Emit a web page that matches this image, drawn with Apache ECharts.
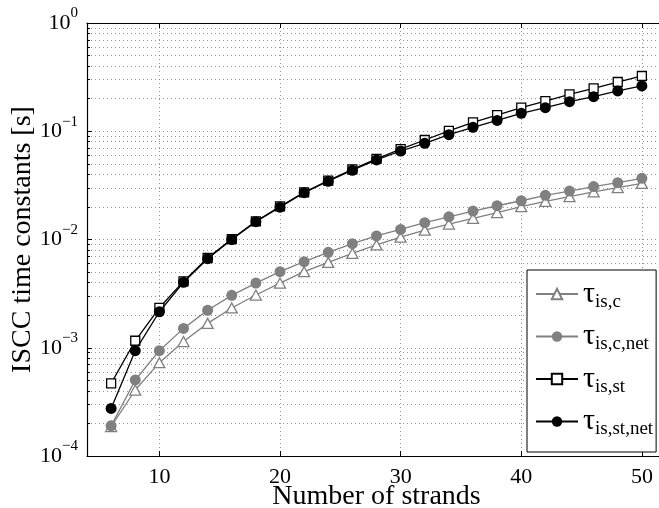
<!DOCTYPE html>
<html><head><meta charset="utf-8">
<script src="https://cdn.jsdelivr.net/npm/echarts@6/dist/echarts.min.js"></script>
<style>html,body{margin:0;padding:0;background:#fff}#c{width:659px;height:508px}</style>
</head><body><div id="c"></div>
<script>
const strands = [6,8,10,12,14,16,18,20,22,24,26,28,30,32,34,36,38,40,42,44,46,48,50];
const tauIsC = [1.87e-4,4.07e-4,7.28e-4,1.14e-3,1.68e-3,2.33e-3,3.07e-3,3.96e-3,5.04e-3,6.15e-3,7.45e-3,8.9e-3,1.05e-2,1.22e-2,1.39e-2,1.57e-2,1.77e-2,2.01e-2,2.25e-2,2.49e-2,2.75e-2,3.01e-2,3.3e-2];
const tauIsCNet = [1.9e-4,5.04e-4,9.4e-4,1.51e-3,2.22e-3,3.05e-3,3.96e-3,5.04e-3,6.24e-3,7.62e-3,9.14e-3,1.08e-2,1.24e-2,1.43e-2,1.62e-2,1.83e-2,2.05e-2,2.28e-2,2.56e-2,2.8e-2,3.08e-2,3.35e-2,3.67e-2];
const tauIsSt = [4.69e-4,1.16e-3,2.34e-3,4.1e-3,6.75e-3,1.01e-2,1.47e-2,2.02e-2,2.73e-2,3.5e-2,4.45e-2,5.55e-2,6.85e-2,8.3e-2,0.101,0.121,0.141,0.165,0.19,0.219,0.249,0.285,0.324];
const tauIsStNet = [2.75e-4,9.4e-4,2.15e-3,4.02e-3,6.65e-3,1.0e-2,1.46e-2,1.99e-2,2.71e-2,3.45e-2,4.36e-2,5.43e-2,6.57e-2,7.73e-2,9.29e-2,0.1087,0.126,0.1465,0.165,0.1875,0.2086,0.2355,0.262];
const xTicks = [10,20,30,40,50];
const yMajorTicks = [1e-4,1e-3,1e-2,1e-1,1];
const yTickExponents = ['−4','−3','−2','−1','0'];
const legendSubs = ['is,c','is,c,net','is,st','is,st,net'];
const seriesNames = legendSubs.map(s => 'τ' + s);

const yMinorTicks = [];
for (let k = -4; k < 0; k++) for (let m = 2; m <= 9; m++) yMinorTicks.push(+(m * Math.pow(10, k)).toPrecision(3));

const FONT = 'Liberation Serif';
const grey = '#808080';
const dotted = {color: '#777', width: 0.8, type: [1, 3]};
const zip = arr => strands.map((x, i) => [x, arr[i]]);

const chart = echarts.init(document.getElementById('c'), null, {renderer: 'canvas'});
chart.setOption({
  animation: false,
  backgroundColor: '#fff',
  grid: {left: 87, top: 23, width: 579, height: 433, containLabel: false, outerBoundsMode: 'none'},
  xAxis: [{
    type: 'value', position: 'bottom', min: 4, max: 52,
    name: 'Number of strands', nameLocation: 'middle', nameGap: 27, nameMoveOverlap: false,
    nameTextStyle: {fontFamily: FONT, fontSize: 28, color: '#000'},
    axisLine: {onZero: false, lineStyle: {color: '#000', width: 1.2}},
    axisTick: {inside: true, length: 5, customValues: xTicks, lineStyle: {color: '#000'}},
    axisLabel: {customValues: xTicks, fontFamily: FONT, fontSize: 22, color: '#000', margin: 10},
    splitLine: {show: true, lineStyle: dotted}
  }, {
    type: 'value', position: 'top', min: 4, max: 52,
    axisLine: {onZero: false, lineStyle: {color: '#000', width: 1.2}},
    axisTick: {inside: true, length: 5, customValues: xTicks, lineStyle: {color: '#000'}},
    axisLabel: {show: false},
    splitLine: {show: false}
  }],
  yAxis: [{
    type: 'log', logBase: 10, min: 1e-4, max: 1, position: 'left',
    name: 'ISCC time constants [s]', nameLocation: 'middle', nameGap: 50, nameMoveOverlap: false,
    nameTextStyle: {fontFamily: FONT, fontSize: 28, color: '#000'},
    axisLine: {lineStyle: {color: '#000', width: 1.2}},
    axisTick: {inside: true, length: 5, customValues: yMajorTicks, lineStyle: {color: '#000'}},
    axisLabel: {
      customValues: yMajorTicks, margin: 9,
      formatter: v => {
        const i = yMajorTicks.findIndex(t => Math.abs(Math.log10(t) - Math.log10(v)) < 1e-6);
        return '{b|10}{s|' + yTickExponents[i] + '}';
      },
      rich: {
        b: {fontFamily: FONT, fontSize: 22, color: '#000'},
        s: {fontFamily: FONT, fontSize: 15, color: '#000', padding: [0, 0, 19, 0]}
      }
    },
    splitLine: {show: true, lineStyle: dotted}
  }, {
    type: 'log', logBase: 10, min: 1e-4, max: 1, position: 'left',
    axisLine: {show: false},
    axisTick: {inside: true, length: 3, customValues: yMinorTicks, lineStyle: {color: '#000'}},
    axisLabel: {show: false},
    splitLine: {show: true, lineStyle: dotted}
  }],
  legend: {
    orient: 'vertical', left: 527, top: 270,
    backgroundColor: '#fff', borderColor: '#000', borderWidth: 1, borderRadius: 0,
    padding: [9, 3, 13, 8], itemWidth: 42, itemHeight: 13, itemGap: 10,
    data: seriesNames,
    formatter: name => '{t|τ}{s|' + legendSubs[seriesNames.indexOf(name)] + '}',
    textStyle: {
      rich: {
        t: {fontFamily: FONT, fontSize: 30, color: '#000'},
        s: {fontFamily: FONT, fontSize: 19, color: '#000', padding: [16, 0, 0, 0]}
      }
    }
  },
  series: [{
    name: seriesNames[0], type: 'line', data: zip(tauIsC), symbol: 'triangle', symbolSize: [11, 10],
    lineStyle: {color: grey, width: 1.3}, itemStyle: {color: '#fff', borderColor: grey, borderWidth: 1.3},
    emphasis: {disabled: true}, z: 2
  }, {
    name: seriesNames[1], type: 'line', data: zip(tauIsCNet), symbol: 'circle', symbolSize: 11,
    lineStyle: {color: grey, width: 1.3}, itemStyle: {color: grey, borderColor: grey, borderWidth: 0},
    emphasis: {disabled: true}, z: 3
  }, {
    name: seriesNames[2], type: 'line', data: zip(tauIsSt), symbol: 'rect', symbolSize: 9,
    lineStyle: {color: '#000', width: 1.3}, itemStyle: {color: '#fff', borderColor: '#000', borderWidth: 1.3},
    emphasis: {disabled: true}, z: 4
  }, {
    name: seriesNames[3], type: 'line', data: zip(tauIsStNet), symbol: 'circle', symbolSize: 11,
    lineStyle: {color: '#000', width: 1.3}, itemStyle: {color: '#000', borderWidth: 0},
    emphasis: {disabled: true}, z: 5
  }]
});
</script>
</body></html>
